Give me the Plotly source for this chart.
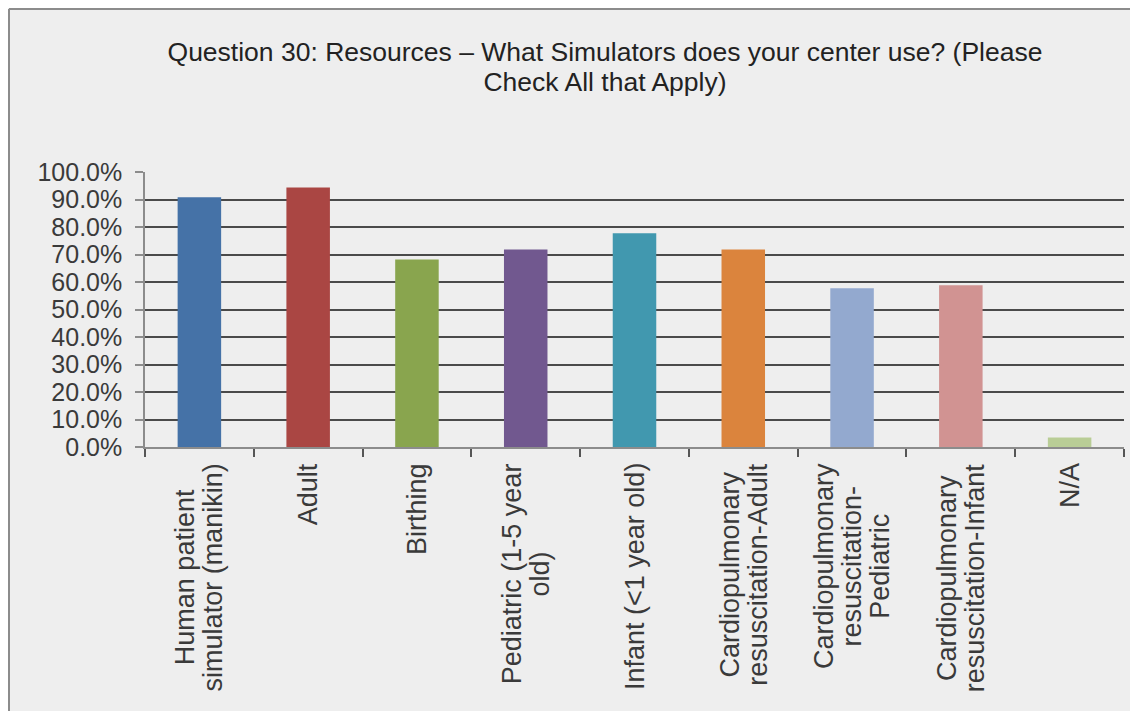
import plotly.graph_objects as go

categories = [
    "Human patient simulator (manikin)",
    "Adult",
    "Birthing",
    "Pediatric (1-5 year old)",
    "Infant (<1 year old)",
    "Cardiopulmonary resuscitation-Adult",
    "Cardiopulmonary resuscitation-Pediatric",
    "Cardiopulmonary resuscitation-Infant",
    "N/A",
]
label_lines = [
    ["Human patient", "simulator (manikin)"],
    ["Adult"],
    ["Birthing"],
    ["Pediatric (1-5 year", "old)"],
    ["Infant (<1 year old)"],
    ["Cardiopulmonary", "resuscitation-Adult"],
    ["Cardiopulmonary", "resuscitation-", "Pediatric"],
    ["Cardiopulmonary", "resuscitation-Infant"],
    ["N/A"],
]
title_lines = [
    "Question 30: Resources – What Simulators does your center use? (Please",
    "Check All that Apply)",
]
values = [0.908, 0.944, 0.682, 0.718, 0.777, 0.718, 0.577, 0.588, 0.035]
colors = ["#4572A7", "#AA4643", "#89A54E", "#71588F", "#4198AF",
          "#DB843D", "#93A9CF", "#D19392", "#B9CD96"]
y_ticks = [i / 10 for i in range(11)]

BG = "#EEEEEE"
TXT = "#3a3a3a"
FONT = "Liberation Sans, Arial, sans-serif"

fig = go.Figure(go.Bar(x=categories, y=values, marker=dict(color=colors, line=dict(width=0))))

annotations = []
for cat, lines in zip(categories, label_lines):
    txt = "<br>".join(f'<span style="font-size:27px">{l}</span>' for l in lines)
    annotations.append(dict(
        x=cat, y=0, xref="x", yref="paper", yshift=-14,
        text=txt, textangle=-90, showarrow=False,
        xanchor="center", yanchor="top", align="center",
        font=dict(family=FONT, size=21.5, color=TXT),
    ))

# the page body adds an 8px offset; figure sized to fit the window
W, H = 1130, 703
L, R, T, B = 137, 14, 164, 264
pw, ph = W - L - R, H - T - B
bx = (1 - L) / pw
by = (H - B - 1) / ph

title_text = "<br>".join(f'<span style="font-size:26.5px">{l}</span>' for l in title_lines)

fig.update_layout(
    width=W, height=H,
    margin=dict(l=L, r=R, t=T, b=B),
    paper_bgcolor=BG, plot_bgcolor=BG,
    showlegend=False,
    bargap=0.6,
    title=dict(
        text=title_text,
        x=597 / W, xanchor="center", xref="container",
        y=1 - 53 / H, yanchor="top", yref="container",
        font=dict(family=FONT, size=23, color="#222222"),
    ),
    xaxis=dict(
        type="category", showticklabels=False,
        ticks="outside", tickson="boundaries", ticklen=8, tickcolor="#555555", tickwidth=1.5,
        showline=True, linecolor="#8c8c8c", linewidth=2, showgrid=False,
    ),
    yaxis=dict(
        range=[0, 1], tickvals=y_ticks, tickformat=".1%",
        ticks="outside", ticklen=8, tickcolor="#8c8c8c", tickwidth=1.5,
        ticklabelstandoff=8,
        showline=True, linecolor="#8c8c8c", linewidth=1.5,
        showgrid=True, gridcolor="#4a4a4a", gridwidth=1.5, zeroline=False,
        tickfont=dict(family=FONT, size=25, color=TXT),
    ),
    annotations=annotations,
    shapes=[
        dict(type="line", xref="paper", yref="paper", x0=bx, x1=bx, y0=-2, y1=by,
             line=dict(color="#8c8c8c", width=2)),
        dict(type="line", xref="paper", yref="paper", x0=bx, x1=2, y0=by, y1=by,
             line=dict(color="#8c8c8c", width=2)),
    ],
)

fig.write_html("out.html")
